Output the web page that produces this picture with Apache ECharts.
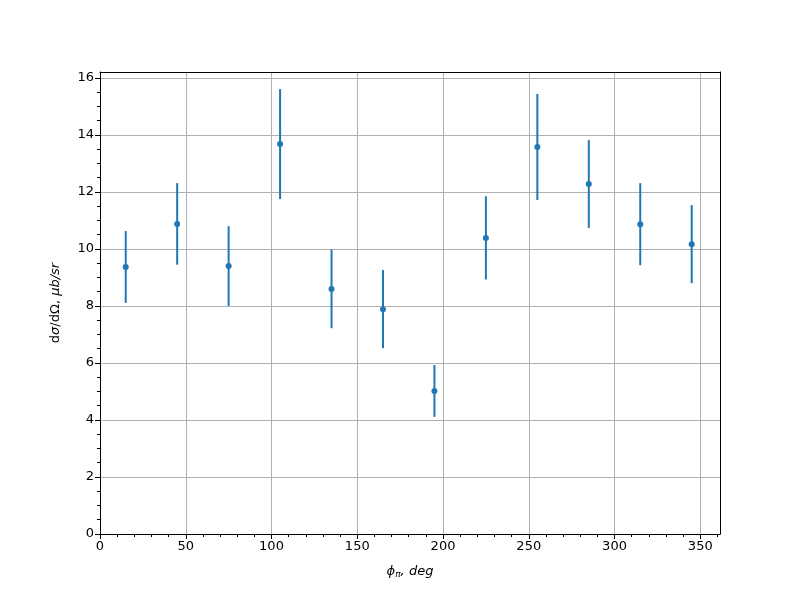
<!DOCTYPE html>
<html>
<head>
<meta charset="utf-8">
<script src="https://cdn.jsdelivr.net/npm/echarts@6/dist/echarts.min.js"></script>
<style>html,body{margin:0;padding:0;background:#fff}#c{width:800px;height:600px}</style>
</head>
<body>
<div id="c"></div>
<script>
var phi = [15, 45, 75, 105, 135, 165, 195, 225, 255, 285, 315, 345];
var xsec = [9.37, 10.88, 9.40, 13.68, 8.60, 7.89, 5.02, 10.39, 13.58, 12.28, 10.87, 10.17];
var err = [1.26, 1.43, 1.40, 1.93, 1.38, 1.37, 0.91, 1.46, 1.86, 1.54, 1.44, 1.37];
var xTicks = [0, 50, 100, 150, 200, 250, 300, 350];
var yTicks = [0, 2, 4, 6, 8, 10, 12, 14, 16];

var pts = phi.map(function (p, i) { return [p, xsec[i]]; });
var bars = phi.map(function (p, i) { return [p, xsec[i] - err[i], xsec[i] + err[i]]; });
var C = '#1f77b4';
var font = 'DejaVu Sans';
var XMAX = 361.5, YMAX = 16.21;

var chart = echarts.init(document.getElementById('c'), null, {renderer: 'canvas'});
chart.setOption({
  animation: false,
  backgroundColor: '#fff',
  grid: {left: 100, right: 80, top: 72, bottom: 66},
  xAxis: [{
    type: 'value', min: 0, max: XMAX, interval: 50,
    name: '{i|ϕ}{s|π}{i|, deg}', nameLocation: 'middle', nameGap: 30,
    nameTextStyle: {rich: {
      i: {fontFamily: font, fontStyle: 'italic', fontSize: 13, color: '#000'},
      s: {fontFamily: font, fontStyle: 'italic', fontSize: 9, color: '#000', padding: [6, 0, 0, 0]}
    }},
    axisLine: {lineStyle: {color: '#000', width: 1}},
    axisTick: {show: true, inside: false, length: 5, lineStyle: {color: '#000'}, customValues: xTicks},
    minorTick: {show: true, splitNumber: 5, length: 3, lineStyle: {color: '#000'}},
    axisLabel: {fontFamily: font, fontSize: 13, color: '#000', margin: 6, customValues: xTicks},
    splitLine: {show: true, lineStyle: {color: '#b0b0b0', width: 1}},
    z: 1
  }, {
    type: 'value', min: 0, max: XMAX, position: 'top',
    axisLine: {show: true, onZero: false, lineStyle: {color: '#000', width: 1}},
    axisTick: {show: false}, axisLabel: {show: false}, splitLine: {show: false}, z: 10
  }],
  yAxis: [{
    type: 'value', min: 0, max: YMAX, interval: 2,
    name: '{r|d}{i|σ}{r|/dΩ, }{i|μb/sr}', nameLocation: 'middle', nameGap: 38, nameRotate: 90,
    nameTextStyle: {rich: {
      i: {fontFamily: font, fontStyle: 'italic', fontSize: 13, color: '#000'},
      r: {fontFamily: font, fontSize: 13, color: '#000'}
    }},
    axisLine: {show: true, lineStyle: {color: '#000', width: 1}},
    axisTick: {show: true, inside: false, length: 5, lineStyle: {color: '#000'}, customValues: yTicks},
    minorTick: {show: true, splitNumber: 4, length: 3, lineStyle: {color: '#000'}},
    axisLabel: {fontFamily: font, fontSize: 13, color: '#000', margin: 6, customValues: yTicks},
    splitLine: {show: true, lineStyle: {color: '#b0b0b0', width: 1}},
    z: 1
  }, {
    type: 'value', min: 0, max: YMAX, position: 'right',
    axisLine: {show: true, onZero: false, lineStyle: {color: '#000', width: 1}},
    axisTick: {show: false}, axisLabel: {show: false}, splitLine: {show: false}, z: 10
  }],
  series: [
    {
      type: 'custom',
      data: bars,
      renderItem: function (params, api) {
        var x = api.value(0);
        var a = api.coord([x, api.value(1)]);
        var b = api.coord([x, api.value(2)]);
        return {type: 'line', shape: {x1: a[0], y1: a[1], x2: b[0], y2: b[1]},
          style: {stroke: C, lineWidth: 2}};
      },
      z: 3
    },
    {
      type: 'scatter', data: pts, symbol: 'circle', symbolSize: 6,
      itemStyle: {color: C, opacity: 1}, z: 4
    }
  ]
});
</script>
</body>
</html>
